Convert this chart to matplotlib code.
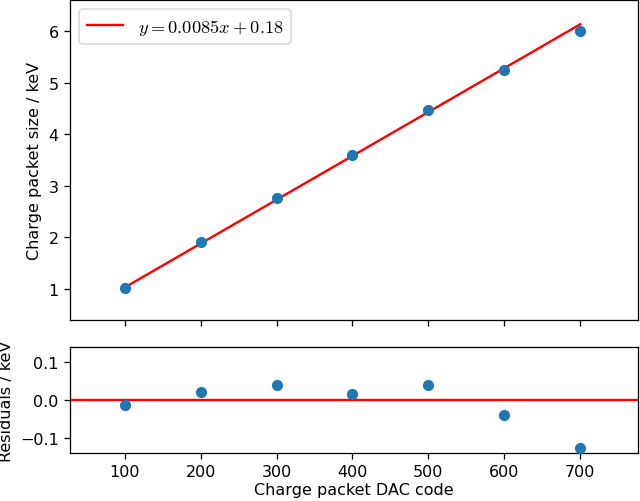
import numpy as np
import matplotlib.pyplot as plt

plt.rcParams['mathtext.fontset'] = 'cm'

# DAC codes and measured charge packet sizes (keV)
dac_code = [100, 200, 300, 400, 500, 600, 700]
charge_kev = [1.018, 1.902, 2.768, 3.595, 4.468, 5.240, 6.005]
residuals = [-0.012, 0.022, 0.038, 0.015, 0.038, -0.040, -0.124]

slope = 0.0085
intercept = 0.18

x = np.array(dac_code)
fit = slope * x + intercept

W, H = 640, 502
fig = plt.figure(figsize=(W / 115, H / 115), dpi=115)
ax1 = fig.add_axes([70 / W, 1 - 321 / H, 568 / W, 320 / H])
ax2 = fig.add_axes([70 / W, 1 - 454 / H, 568 / W, 106 / H], sharex=ax1)

ax1.plot(x, fit, color="red", label=r"$y = 0.0085x + 0.18$")
ax1.scatter(x, charge_kev, zorder=3)
ax1.set_ylabel("Charge packet size / keV")
ax1.set_ylim(0.4, 6.6)
ax1.legend(loc="upper left", fontsize=11.5)
ax1.tick_params(labelbottom=False)

ax2.axhline(0, color="red")
ax2.scatter(x, residuals, zorder=3)
ax2.set_ylim(-0.138, 0.138)
ax2.set_xlim(28, 776)
ax2.set_xlabel("Charge packet DAC code", labelpad=2)
ax2.set_ylabel("Residuals / keV")

plt.savefig("out.png")
